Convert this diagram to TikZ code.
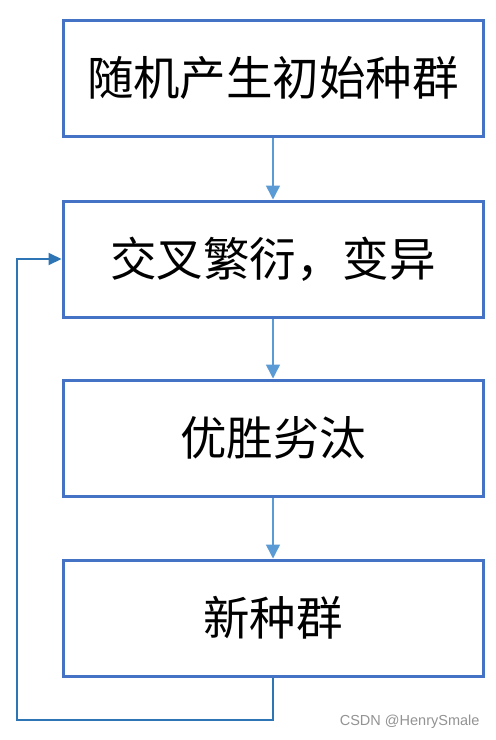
\documentclass[tikz,border=0pt]{standalone}
\usepackage{fontspec}
\newfontfamily\cjk{Noto Sans CJK SC}
\newfontfamily\wm{Liberation Sans}
\usetikzlibrary{arrows.meta}
\definecolor{boxblue}{HTML}{4472C4}
\definecolor{arrblue}{HTML}{5B9BD5}
\definecolor{loopblue}{HTML}{2E75B6}
\begin{document}
\begin{tikzpicture}[x=1pt,y=-1pt,
  stepbox/.style={draw=boxblue,line width=3pt,fill=white,minimum width=420pt,minimum height=116pt,inner sep=0pt,font=\cjk\fontsize{46.5}{50}\selectfont},
  flow/.style={draw=arrblue,line width=1.5pt,-{Triangle[length=14pt,width=14pt]}},
  loop/.style={draw=loopblue,line width=2pt,-{Triangle[length=13pt,width=12pt]}}]
\useasboundingbox[fill=white] (0,0) rectangle (496,740);
\node[stepbox] (b1) at (273,78) {随机产生初始种群};
\node[stepbox] (b2) at (273,259) {交叉繁衍，变异};
\node[stepbox] (b3) at (273,438) {优胜劣汰};
\node[stepbox] (b4) at (273,618) {新种群};
\draw[flow] (b1.south) -- (b2.north);
\draw[flow] (b2.south) -- (b3.north);
\draw[flow] (b3.south) -- (b4.north);
\coordinate (c1) at (273,720);
\coordinate (c2) at (17,720);
\draw[loop] (b4.south) -- (c1) -- (c2) |- (b2.west);
\node[anchor=east,text=gray!85,font=\wm\fontsize{14.5}{16}\selectfont] (wm) at (483,722) {CSDN @HenrySmale};
\end{tikzpicture}
\end{document}
